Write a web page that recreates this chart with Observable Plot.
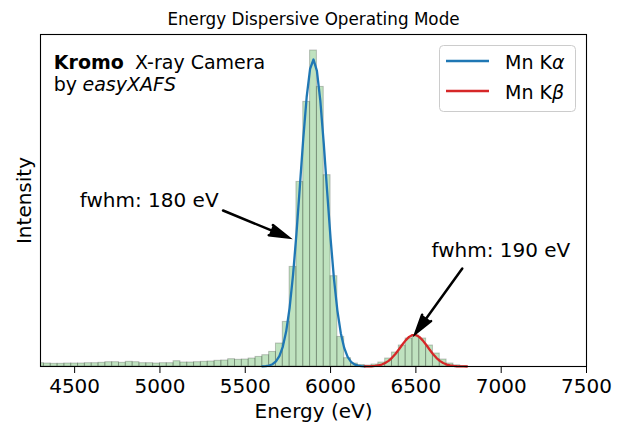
<!DOCTYPE html>
<html><head><meta charset="utf-8">
<script src="https://cdn.jsdelivr.net/npm/d3@7"></script>
<script src="https://cdn.jsdelivr.net/npm/@observablehq/plot@0.6"></script>
<style>html,body{margin:0;padding:0;background:#fff;}</style>
</head><body><div id="chart"></div>
<script>
// ---- data ----
const binWidth = 40;
const binStarts = [4280,4320,4360,4400,4440,4480,4520,4560,4600,4640,
  4680,4720,4760,4800,4840,4880,4920,4960,5000,5040,
  5080,5120,5160,5200,5240,5280,5320,5360,5400,5440,
  5480,5520,5560,5600,5640,5680,5720,5760,5800,5840,
  5880,5920,5960,6000,6040,6080,6120,6160,6200,6240,
  6280,6320,6360,6400,6440,6480,6520,6560,6600,6640,
  6680,6720,6760];
const binCounts = [3.3,3.0,2.7,2.7,3.0,3.0,3.0,3.3,3.3,3.7,
  4.3,4.3,3.7,4.7,4.3,3.3,3.3,3.0,3.3,3.3,
  5.3,4.0,4.0,4.3,4.7,5.0,5.7,6.0,7.3,6.7,
  7.0,8.0,9.6,11.3,14.6,23,44.6,99.6,184.6,264.6,
  316,279.6,191.3,90.3,29.6,8.3,3,1.5,1,2,
  4,8,14,21,28,31,28,21,13,7,
  3,1.2,0.5];
const kaEnergy = [5600,5620,5640,5660,5680,5700,5720,5740,5760,5780,5800,5820,5840,5860,5880,5900,
  5920,5940,5960,5980,6000,6020,6040,6060,6080,6100,6120,6140,6160,6180,6200];
const kaFit = [0.15,0.39,0.98,2.3,5.05,10.3,19.7,35.2,58.7,91.3,132.6,179.9,227.9,269.5,297.7,307,
  295.6,265.8,223.2,175.0,128.1,87.6,55.9,33.3,18.6,9.64,4.68,2.12,0.9,0.35,0.13];
const kbEnergy = [6200,6220,6240,6260,6280,6300,6320,6340,6360,6380,6400,6420,6440,6460,6480,6500,
  6520,6540,6560,6580,6600,6620,6640,6660,6680,6700,6720,6740,6760,6780,6800];
const kbFit = [0.05,0.12,0.26,0.55,1.07,1.98,3.45,5.64,8.66,12.52,17.02,21.76,26.17,29.58,31.46,31.46,
  29.58,26.17,21.76,17.02,12.52,8.66,5.64,3.45,1.98,1.07,0.55,0.26,0.12,0.05,0.02];
const xTicks = [4500,5000,5500,6000,6500,7000,7500];
const noteTexts = ["fwhm: 180 eV","fwhm: 190 eV"];
const noteX = [4937, 6998];
const noteY = [166, 116];
const arrowTailX = [5370, 6772];
const arrowTailY = [156, 98];
const arrowTipX = [5754, 6497];
const arrowTipY = [129, 33];
const legendLabels = ["Mn K","Mn K"];
const legendGreek = ["α","β"];
const legendColors = ["#1f77b4","#d62728"];
const titleText = "Energy Dispersive Operating Mode";
const xLabel = "Energy (eV)";
const yLabel = "Intensity";

// ---- build tables ----
const bars = binStarts.map((s,i)=>({x1:s, x2:s+binWidth, y:binCounts[i]}));
const ka = kaEnergy.map((e,i)=>({e, v:kaFit[i]}));
const kb = kbEnergy.map((e,i)=>({e, v:kbFit[i]}));
const notes = noteTexts.map((t,i)=>({t, x:noteX[i], y:noteY[i]}));
const arrows = arrowTailX.map((_,i)=>({x1:arrowTailX[i], y1:arrowTailY[i], x2:arrowTipX[i], y2:arrowTipY[i]}));

const FONT = "DejaVu Sans";
const plot = Plot.plot({
  width: 622, height: 423,
  marginLeft: 40, marginRight: 36, marginTop: 34, marginBottom: 57,
  style: {fontFamily: FONT, fontSize: "20px", color: "#000", background: "#fff"},
  x: {domain: [4300, 7500]},
  y: {domain: [0, 332], axis: null},
  marks: [
    Plot.rectY(bars, {x1:"x1", x2:"x2", y:"y", fill:"#2ca02c", fillOpacity:0.3, stroke:"#000", strokeOpacity:0.22, strokeWidth:1, clip:true}),
    Plot.line(ka, {x:"e", y:"v", stroke:"#1f77b4", strokeWidth:2.3}),
    Plot.line(kb, {x:"e", y:"v", stroke:"#d62728", strokeWidth:2.3}),
    Plot.frame({stroke:"#000", strokeWidth:1.1}),
    Plot.axisX({ticks: xTicks, tickSize: 7, tickPadding: 5.3, tickFormat: d => String(d), fontSize: 20, label: null}),
    Plot.arrow(arrows, {x1:"x1", y1:"y1", x2:"x2", y2:"y2", stroke:"#000", fill:"#000", strokeWidth:2.5, headLength:12, headAngle:32, strokeLinejoin:"miter", strokeMiterlimit:10}),
    Plot.text(notes, {x:"x", y:"y", text:"t", fontSize:20, textAnchor:"middle", lineAnchor:"middle", fill:"#000"}),
    Plot.text([titleText], {frameAnchor:"top", text:d=>d, dy:-14.4, fontSize:16.8, lineAnchor:"middle", fill:"#000"}),
    Plot.text([xLabel], {frameAnchor:"bottom", text:d=>d, dy:44.6, fontSize:20, lineAnchor:"middle", fill:"#000"}),
    Plot.text([yLabel], {frameAnchor:"left", text:d=>d, dx:-16, rotate:-90, fontSize:20, textAnchor:"middle", lineAnchor:"middle", fill:"#000"}),
    Plot.text(["Kromo"], {frameAnchor:"top-left", text:d=>d, dx:13.3, dy:28.2, fontSize:19, fontWeight:"bold", textAnchor:"start", lineAnchor:"middle", fill:"#000"}),
    Plot.text(["X-ray Camera"], {frameAnchor:"top-left", text:d=>d, dx:94.5, dy:28.2, fontSize:19, textAnchor:"start", lineAnchor:"middle", fill:"#000"}),
    Plot.text(["by"], {frameAnchor:"top-left", text:d=>d, dx:13.3, dy:50.6, fontSize:19, textAnchor:"start", lineAnchor:"middle", fill:"#000"}),
    Plot.text(["easyXAFS"], {frameAnchor:"top-left", text:d=>d, dx:42, dy:50.6, fontSize:19, fontStyle:"italic", textAnchor:"start", lineAnchor:"middle", fill:"#000"})
  ]
});

// ---- legend ----
const svg = d3.select(plot);
const lg = svg.append("g").attr("font-family", FONT).attr("font-size", 19).attr("text-anchor", "start");
lg.append("rect").attr("x", 439.5).attr("y", 45.5).attr("width", 136).attr("height", 66)
  .attr("rx", 4).attr("fill", "#fff").attr("fill-opacity", 0.8).attr("stroke", "#cccccc").attr("stroke-width", 1);
legendLabels.forEach((lab, i) => {
  const yy = 61 + i * 30;
  lg.append("line").attr("x1", 446).attr("x2", 489).attr("y1", yy).attr("y2", yy)
    .attr("stroke", legendColors[i]).attr("stroke-width", 2.3);
  const t = lg.append("text").attr("x", 505).attr("y", yy + 7.5).attr("fill", "#000").attr("text-anchor", "start");
  t.append("tspan").text(lab);
  t.append("tspan").attr("font-style", "italic").text(legendGreek[i]);
});

document.getElementById("chart").appendChild(plot);
</script>
</body></html>
